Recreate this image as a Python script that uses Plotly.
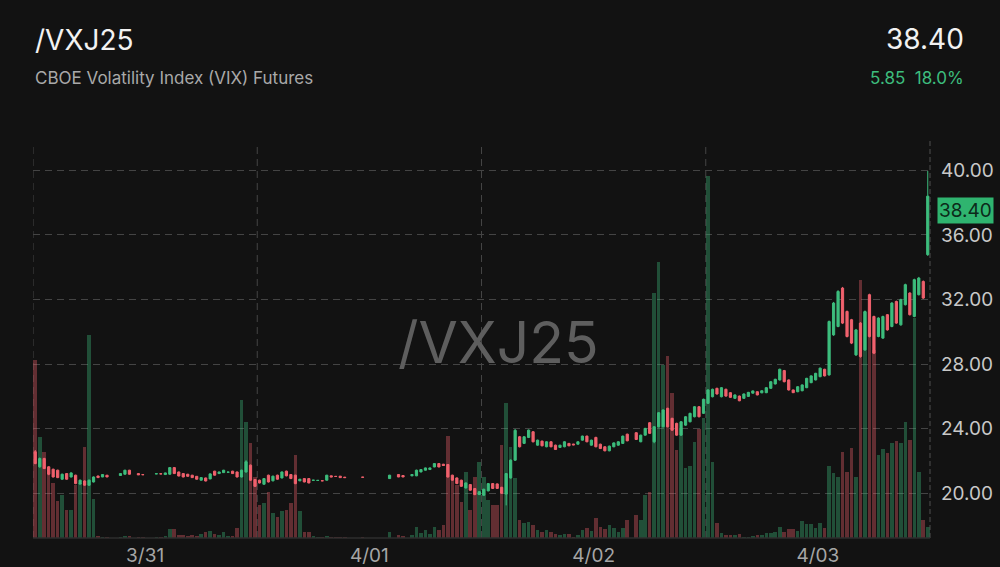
import plotly.graph_objects as go

# ---------------- data (30-minute bars, 50 per session) ----------------
dates = ["3/31", "4/01", "4/02", "4/03"]
date_pos = [24.5, 74.5, 124.5, 174.5]
day_breaks = [-0.5, 49.5, 99.5, 149.5]
price_ticks = [20, 24, 28, 32, 36, 40]

open_d1 = [22.57, 21.64, 22.15, 21.64, 21.49, 21.43, 20.87, 21.22, 21.01, 21.12,
           20.57, 20.76, 20.50, 20.70, 21.07, 21.01, 21.12, None, None, 21.10,
           21.18, 21.43, None, 21.22, 21.16, None, None, 21.20, 21.21, 21.16,
           21.18, 21.59, 21.32, 21.22, 21.18, 21.12, 21.05, 20.81, 20.95, 20.89,
           21.37, 21.22, 21.28, 21.30, 21.37, 21.32, 21.01, 21.32, 21.74, 20.85]
high_d1 = [22.68, 22.22, 22.20, 21.68, 21.52, 21.46, 21.22, 21.25, 21.30, 21.15,
           20.85, 20.80, 20.85, 21.04, 21.09, 21.18, 21.13, None, None, 21.24,
           21.45, 21.45, None, 21.23, 21.17, None, None, 21.22, 21.22, 21.28,
           21.62, 21.62, 21.34, 21.24, 21.20, 21.14, 21.07, 20.99, 20.97, 21.24,
           21.39, 21.34, 21.45, 21.33, 21.39, 21.34, 21.46, 22.05, 21.78, 20.88]
low_d1 = [21.80, 21.58, 21.50, 21.12, 20.98, 20.94, 20.84, 20.84, 20.98, 20.56,
          20.54, 20.47, 20.46, 20.67, 20.95, 21.00, 21.00, None, None, 21.09,
          21.16, 21.16, None, 21.13, 21.14, None, None, 21.19, 21.19, 21.15,
          21.16, 21.20, 21.05, 20.99, 21.03, 20.95, 20.85, 20.79, 20.74, 20.87,
          21.10, 21.20, 21.26, 21.28, 21.20, 20.98, 20.98, 21.28, 20.77, 20.40]
close_d1 = [21.84, 22.15, 21.53, 21.18, 21.01, 20.97, 21.18, 20.87, 21.26, 20.60,
            20.81, 20.50, 20.81, 21.01, 20.97, 21.16, 21.01, None, None, 21.22,
            21.43, 21.18, None, 21.14, 21.15, None, None, 21.21, 21.20, 21.26,
            21.59, 21.22, 21.07, 21.01, 21.05, 20.97, 20.87, 20.97, 20.76, 21.20,
            21.12, 21.32, 21.43, 21.31, 21.22, 21.01, 21.43, 21.95, 20.81, 20.43]
vol_d1 = [178, 101, 86, 71, 55, 37, 43, 28, 28, 53,
          55, 91, 203, 39, 2, 1, 1, 0, 0, 1,
          2, 2, 0, 1, 1, 0, 0, 1, 1, 2,
          9, 9, 3, 3, 2, 3, 2, 4, 6, 7,
          4, 3, 6, 2, 2, 10, 138, 116, 95, 61]

open_d2 = [20.81, 20.56, 21.12, 20.77, 21.12, 20.95, 21.37, 21.16, 21.12, 20.77,
           20.91, 20.91, 20.80, 20.79, 20.78, 20.81, 21.08, 21.05, 21.06, 21.00,
           None, None, None, 21.00, None, None, None, None, None, 20.91,
           None, 21.16, 21.10, None, 21.08, 21.08, 21.32, 21.43, 21.47, 21.63,
           21.84, 21.80, 21.78, 21.12, 20.95, 20.81, 20.33, 20.54, 20.29, 19.92]
high_d2 = [20.84, 20.94, 21.15, 21.09, 21.15, 21.35, 21.40, 21.19, 21.15, 20.89,
           20.93, 20.93, 20.82, 20.81, 20.79, 21.14, 21.09, 21.06, 21.07, 21.01,
           None, None, None, 21.01, None, None, None, None, None, 21.14,
           None, 21.18, 21.11, None, 21.18, 21.46, 21.49, 21.59, 21.59, 21.86,
           21.86, 21.82, 21.80, 21.15, 20.98, 20.84, 20.67, 20.57, 20.32, 20.13]
low_d2 = [20.61, 20.53, 20.67, 20.74, 20.84, 20.92, 21.05, 20.88, 20.56, 20.75,
          20.68, 20.62, 20.79, 20.78, 20.76, 20.79, 21.00, 21.03, 20.96, 20.96,
          None, None, None, 20.98, None, None, None, None, None, 20.89,
          None, 21.00, 21.00, None, 21.06, 21.06, 21.30, 21.41, 21.45, 21.61,
          21.61, 21.70, 20.97, 20.78, 20.57, 20.40, 20.30, 20.16, 19.88, 19.89]
close_d2 = [20.64, 20.91, 20.70, 21.06, 20.87, 21.32, 21.08, 20.91, 20.60, 20.87,
            20.70, 20.64, 20.81, 20.80, 20.77, 21.12, 21.01, 21.04, 20.97, 20.97,
            None, None, None, 20.99, None, None, None, None, None, 21.12,
            None, 21.01, 21.01, None, 21.16, 21.43, 21.47, 21.57, 21.57, 21.84,
            21.63, 21.72, 21.01, 20.81, 20.60, 20.43, 20.64, 20.19, 19.92, 20.10]
vol_d2 = [33, 35, 46, 25, 21, 27, 28, 35, 83, 27,
          6, 6, 2, 1, 1, 2, 1, 1, 1, 1,
          0, 0, 0, 1, 0, 0, 0, 0, 0, 6,
          0, 3, 2, 0, 3, 11, 5, 8, 4, 11,
          8, 13, 102, 61, 53, 36, 66, 28, 61, 76]

open_d3 = [19.88, 20.15, 20.60, 20.58, 20.37, 19.95, 20.95, 22.05, 23.50, 23.09,
           23.46, 23.81, 22.98, 23.23, 22.88, 23.19, 22.98, 22.84, 22.88, 23.09,
           23.05, 23.04, 23.29, 23.54, 22.98, 23.46, 23.04, 22.88, 22.63, 22.88,
           22.98, 23.09, 23.66, None, 23.75, 23.19, 23.60, 24.37, 23.19, 24.12,
           24.12, 25.26, 24.64, 24.33, 23.60, 24.22, 24.43, 24.74, 25.36, 24.95]
high_d3 = [20.28, 20.63, 20.63, 20.61, 20.40, 21.26, 22.10, 23.98, 23.55, 23.54,
           23.95, 23.85, 23.32, 23.26, 23.22, 23.22, 23.01, 23.00, 23.22, 23.11,
           23.06, 23.21, 23.57, 23.57, 23.32, 23.50, 23.07, 22.91, 22.95, 23.15,
           23.22, 23.57, 23.69, None, 23.78, 23.63, 24.05, 24.41, 24.16, 25.03,
           25.20, 25.30, 24.68, 24.37, 24.47, 24.78, 24.99, 25.40, 25.40, 25.86]
low_d3 = [19.85, 20.12, 20.27, 20.27, 19.96, 19.25, 20.91, 22.00, 22.84, 23.05,
          23.42, 23.15, 22.95, 22.91, 22.85, 22.85, 22.68, 22.82, 22.85, 22.92,
          22.98, 23.02, 23.26, 23.16, 22.95, 22.85, 22.74, 22.60, 22.60, 22.85,
          22.95, 23.06, 23.22, None, 23.30, 23.16, 23.57, 23.67, 23.10, 24.08,
          24.08, 24.08, 23.87, 23.56, 23.56, 24.18, 24.39, 24.70, 24.70, 24.91]
close_d3 = [20.25, 20.60, 20.30, 20.30, 20.00, 21.22, 22.05, 23.90, 22.88, 23.50,
            23.91, 23.19, 23.29, 22.94, 23.19, 22.88, 22.71, 22.98, 23.19, 22.94,
            23.00, 23.19, 23.54, 23.19, 23.29, 22.88, 22.77, 22.63, 22.92, 23.12,
            23.19, 23.54, 23.25, None, 23.33, 23.60, 24.02, 23.71, 24.12, 24.99,
            25.16, 24.12, 23.91, 23.60, 24.43, 24.74, 24.95, 25.36, 24.74, 25.82]
vol_d3 = [61, 38, 33, 33, 93, 135, 91, 60, 18, 15,
          16, 13, 8, 6, 8, 6, 4, 3, 4, 4,
          1, 3, 8, 10, 7, 20, 11, 9, 13, 10,
          6, 10, 18, 0, 23, 18, 43, 46, 245, 276,
          173, 182, 145, 88, 110, 70, 72, 96, 109, 120]

open_d4 = [25.57, 25.98, 26.50, 25.98, 26.44, 26.23, 25.88, 26.02, 25.88, 26.00,
           26.20, 26.29, 26.22, 26.23, 26.50, 26.77, 27.02, 27.60, 27.02, 26.40,
           26.29, 26.35, 26.54, 26.85, 27.02, 27.22, 27.68, 27.33, 29.81, 30.33,
           32.71, 31.26, 30.75, 28.57, 30.54, 28.88, 32.30, 30.95, 29.71, 29.61,
           31.06, 30.33, 31.88, 30.43, 31.68, 32.40, 30.95, 32.30, 33.12, 34.78]
high_d4 = [26.44, 26.48, 26.54, 26.58, 26.48, 26.26, 26.12, 26.05, 26.18, 26.28,
           26.36, 26.31, 26.37, 26.57, 26.94, 27.09, 27.72, 27.64, 27.05, 26.42,
           26.63, 26.74, 27.15, 27.30, 27.46, 27.78, 27.71, 30.70, 31.85, 32.58,
           32.78, 31.32, 30.80, 30.18, 30.60, 31.32, 32.36, 31.00, 30.90, 31.00,
           31.10, 31.84, 31.93, 32.05, 32.98, 32.45, 33.29, 33.40, 33.18, 39.96]
low_d4 = [25.53, 25.94, 26.11, 25.94, 25.98, 25.91, 25.85, 25.70, 25.85, 25.97,
          26.18, 26.07, 26.20, 26.20, 26.47, 26.74, 26.98, 26.87, 26.36, 26.21,
          26.26, 26.32, 26.51, 26.82, 26.99, 27.19, 27.24, 27.28, 29.75, 30.28,
          30.48, 29.65, 29.24, 28.50, 28.40, 28.82, 29.65, 28.62, 29.66, 29.56,
          30.07, 30.28, 30.49, 30.38, 31.63, 31.01, 30.90, 32.25, 32.04, 34.70]
close_d4 = [26.40, 26.44, 26.15, 26.54, 26.02, 25.94, 26.09, 25.73, 26.15, 26.25,
            26.34, 26.09, 26.35, 26.54, 26.91, 27.06, 27.68, 26.91, 26.40, 26.23,
            26.60, 26.71, 27.12, 27.27, 27.43, 27.75, 27.27, 30.64, 31.78, 32.50,
            30.54, 29.71, 29.30, 30.12, 28.47, 31.26, 29.71, 28.68, 30.85, 30.95,
            30.12, 31.78, 30.54, 31.99, 32.92, 31.06, 33.23, 33.33, 32.09, 38.40]
vol_d4 = [362, 76, 15, 5, 3, 3, 3, 4, 1, 1,
          2, 3, 3, 5, 5, 6, 11, 6, 9, 9,
          7, 17, 14, 14, 10, 15, 10, 72, 65, 61,
          86, 66, 90, 61, 258, 226, 243, 188, 83, 89,
          85, 95, 97, 95, 116, 98, 220, 66, 18, 11]

last_price = "38.40"
change_text = "5.85\u00a0\u00a018.0%"
symbol = "/VXJ25"
subtitle = "CBOE Volatility Index (VIX) Futures"

# ---------------- assemble ----------------
opens = open_d1 + open_d2 + open_d3 + open_d4
highs = high_d1 + high_d2 + high_d3 + high_d4
lows = low_d1 + low_d2 + low_d3 + low_d4
closes = close_d1 + close_d2 + close_d3 + close_d4
volumes = vol_d1 + vol_d2 + vol_d3 + vol_d4
idx = list(range(len(opens)))

BG = "#121212"
GREEN = "#3dbd7d"
RED = "#f0616d"
GRID = "#444444"
DASH = "7px,5px"

vol_colors = []
for o, c in zip(opens, closes):
    if o is None:
        vol_colors.append("rgba(0,0,0,0)")
    elif c >= o:
        vol_colors.append("rgba(61,189,125,0.36)")
    else:
        vol_colors.append("rgba(240,97,109,0.36)")

fig = go.Figure()
fig.add_trace(go.Bar(x=idx, y=volumes, marker=dict(color=vol_colors, line=dict(width=0)),
                     width=0.8, yaxis="y", hoverinfo="skip"))
fig.add_trace(go.Candlestick(
    x=idx, open=opens, high=highs, low=lows, close=closes, yaxis="y2",
    increasing=dict(line=dict(color=GREEN, width=1), fillcolor=GREEN),
    decreasing=dict(line=dict(color=RED, width=1), fillcolor=RED),
    whiskerwidth=0, hoverinfo="skip"))

shapes = []
for b in day_breaks:
    shapes.append(dict(type="line", xref="x", yref="paper", x0=b, x1=b, y0=0, y1=0.987,
                       line=dict(color=GRID, width=1, dash=DASH), layer="below"))
shapes.append(dict(type="line", xref="paper", yref="paper", x0=1, x1=1, y0=0, y1=1,
                   line=dict(color="#4e4e4e", width=1, dash="5px,3px"), layer="above"))
shapes.append(dict(type="line", xref="paper", yref="paper", x0=0, x1=1, y0=0, y1=0,
                   line=dict(color="#2e2e2e", width=1.5), layer="above"))

PL, PT, PW, PH = 33, 140, 897, 398


def px(xp):
    return (xp - PL) / PW


def py(yp):
    return (PT + PH - yp) / PH


annotations = [
    dict(text=symbol, x=px(33), y=py(40), xref="paper", yref="paper", xanchor="left",
         yanchor="middle", showarrow=False, font=dict(size=28, color="#f2f2f2")),
    dict(text=subtitle, x=px(33), y=py(78), xref="paper", yref="paper", xanchor="left",
         yanchor="middle", showarrow=False, font=dict(size=17, color="#a9a9a9")),
    dict(text=last_price, x=px(966), y=py(39), xref="paper", yref="paper", xanchor="right",
         yanchor="middle", showarrow=False, font=dict(size=28, color="#f2f2f2")),
    dict(text=change_text, x=px(966), y=py(78), xref="paper", yref="paper", xanchor="right",
         yanchor="middle", showarrow=False, font=dict(size=17, color="#3dbd7d")),
    dict(text=symbol, x=px(498), y=py(342), xref="paper", yref="paper", xanchor="center",
         yanchor="middle", showarrow=False, font=dict(size=57, color="#5e5e5e")),
    dict(text=last_price, x=1, y=38.40, xref="paper", yref="y2", xanchor="left",
         yanchor="middle", xshift=7, yshift=-14, showarrow=False,
         bgcolor="#2fb46f", borderpad=1, font=dict(size=19, color="#0c2a1a")),
]

fig.update_layout(
    width=1000, height=567, autosize=False,
    paper_bgcolor=BG, plot_bgcolor=BG,
    margin=dict(l=PL, r=1000 - PL - PW, t=PT, b=567 - PT - PH, pad=0, autoexpand=False),
    showlegend=False,
    font=dict(family="Inter, Roboto, sans-serif", color="#c8c8c8"),
    xaxis=dict(range=[-0.5, 199.5], tickvals=date_pos, ticktext=dates, showgrid=False,
               zeroline=False, showline=False, ticks="", ticklabelstandoff=4,
               tickfont=dict(size=19, color="#a6a6a6"), automargin=False,
               rangeslider=dict(visible=False), fixedrange=True),
    yaxis=dict(range=[0, PH], visible=False, showgrid=False, fixedrange=True,
               automargin=False),
    yaxis2=dict(overlaying="y", side="right", range=[17.23, 41.88], tickvals=price_ticks,
                tickformat=".2f", showgrid=True, gridcolor=GRID, griddash=DASH, gridwidth=1,
                zeroline=False, showline=False, ticks="", ticklabelstandoff=10,
                automargin=False,
                tickfont=dict(size=19, color="#c8c8c8"), fixedrange=True),
    shapes=shapes,
    annotations=annotations,
    bargap=0,
)

fig.write_html(
    "out.html",
    config={"displayModeBar": False},
    post_script="document.body.style.margin='0';document.body.style.background='#121212';"
                "document.body.style.overflow='hidden';",
)
